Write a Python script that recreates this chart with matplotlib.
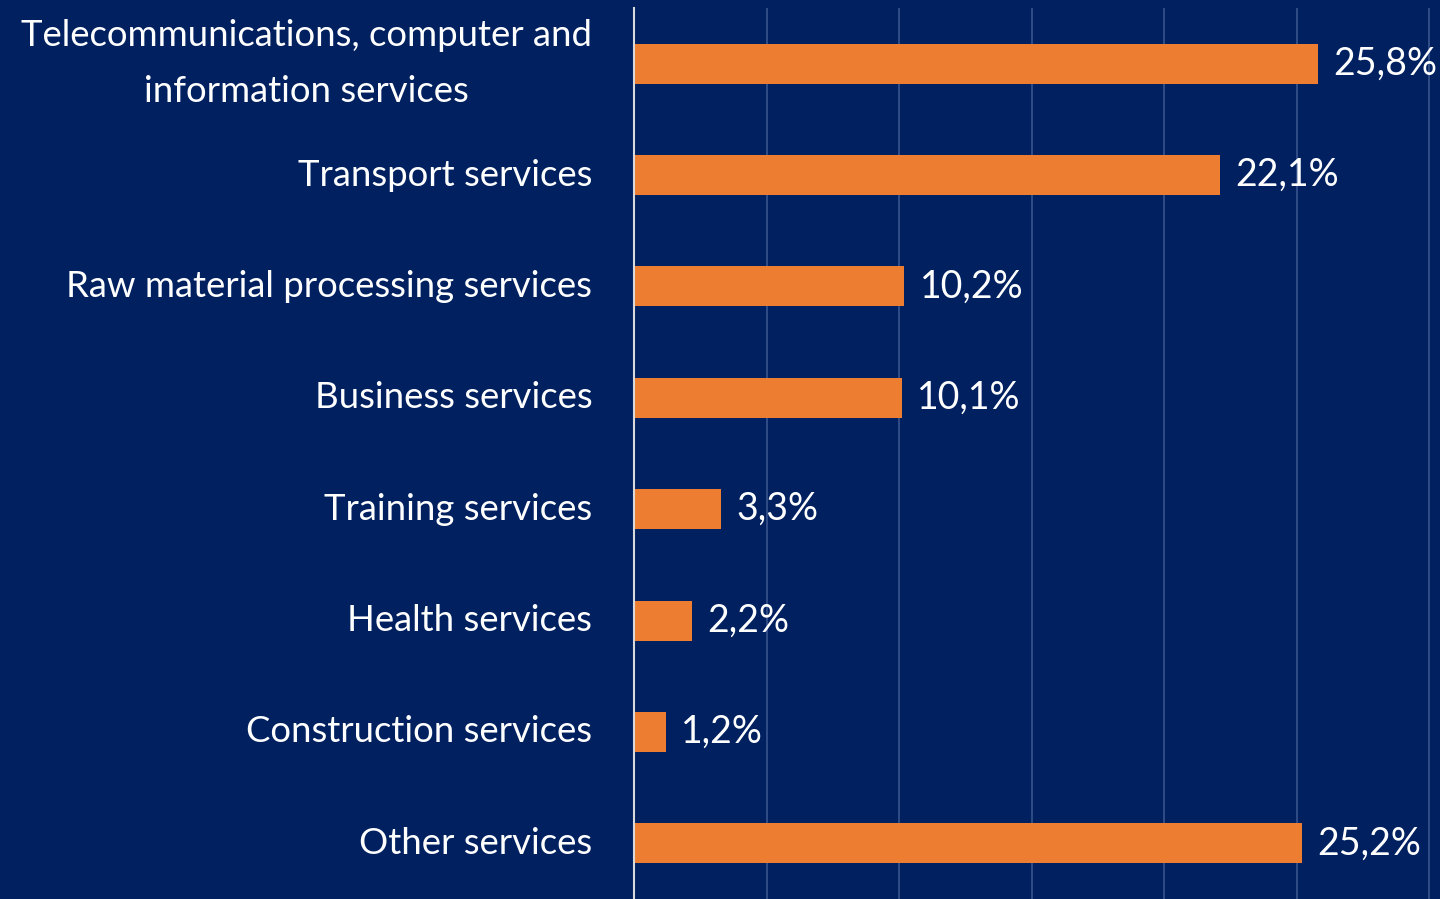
import matplotlib
matplotlib.use("Agg")
import matplotlib.pyplot as plt
import matplotlib.transforms as mtransforms

categories = [
    "Telecommunications, computer and\ninformation services",
    "Transport services",
    "Raw material processing services",
    "Business services",
    "Training services",
    "Health services",
    "Construction services",
    "Other services",
]
values = [25.8, 22.1, 10.2, 10.1, 3.3, 2.2, 1.2, 25.2]
value_labels = ["25,8%", "22,1%", "10,2%", "10,1%", "3,3%", "2,2%", "1,2%", "25,2%"]
grid_ticks = [5, 10, 15, 20, 25, 30]

BG = "#00205F"
ORANGE = "#ED7D31"
GRID = "#34508A"
FONT = "Lato"

fig = plt.figure(figsize=(14.4, 8.99), dpi=100, facecolor=BG)
ax = fig.add_axes([634 / 1440, 0.0, 1 - 634 / 1440, 1 - 8 / 899])
ax.set_facecolor(BG)

y = list(range(len(categories)))
ax.barh(y, values, height=0.36, color=ORANGE, zorder=3)
ax.set_ylim(len(categories) - 0.5, -0.5)
ax.set_xlim(0, 30.4)

for t in grid_ticks:
    ax.axvline(t, color=GRID, lw=1.3, zorder=1)

for yi, v, lab in zip(y, values, value_labels):
    ax.annotate(lab, (v, yi), xytext=(11, 0), textcoords="offset points",
                ha="left", va="center", color="white", fontsize=27,
                family=FONT, fontweight="normal")

ax.set_yticks(y)
ax.set_yticklabels(categories, color="white", fontsize=26.3, family=FONT,
                   fontweight="normal", linespacing=1.85, multialignment="center")
shift = mtransforms.ScaledTranslation(0, 5 / 100, fig.dpi_scale_trans)
for lbl in ax.get_yticklabels():
    lbl.set_va("center")
    lbl.set_transform(lbl.get_transform() + shift)
ax.tick_params(axis="y", length=0, pad=30)
ax.set_xticks([])
for s in ["top", "right", "bottom"]:
    ax.spines[s].set_visible(False)
ax.spines["left"].set_color("#D9D9D9")
ax.spines["left"].set_linewidth(1.5)
ax.spines["left"].set_zorder(4)

fig.savefig("out.png", dpi=100, facecolor=BG)
